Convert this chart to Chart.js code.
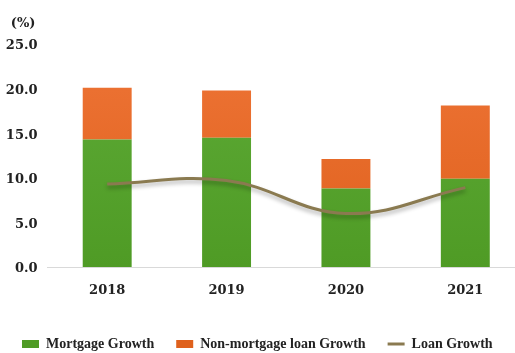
<!DOCTYPE html>
<html>
<head>
<meta charset="utf-8">
<script src="https://cdn.jsdelivr.net/npm/chart.js@4"></script>
<style>
    html, body { margin: 0; padding: 0; background: #fff; overflow: hidden; }
    #wrap { width: 530px; height: 361px; }
</style>
</head>
<body>
<div id="wrap"><canvas id="loanChart" width="530" height="361"></canvas></div>
<script>
// =====================
// DATA
// =====================
const years = ['2018', '2019', '2020', '2021'];
const mortgageGrowth = [14.3, 14.5, 8.8, 9.9];
const nonMortgageGrowth = [5.8, 5.3, 3.3, 8.2];
const loanGrowth = [9.3, 9.7, 6.0, 8.9];
const yTicks = [0, 5, 10, 15, 20, 25];

// axis numbers are set in a wide serif, the legend in a narrower one
const AXIS_FONT = { family: '"DejaVu Serif", serif', size: 13, weight: 'bold' };
const LEGEND_FONT = { family: '"Liberation Serif", serif', size: 14, weight: 'bold' };

// vertical gradient for the bar fills
function barGradient(top, bottom) {
    return ctx => {
        const area = ctx.chart.chartArea;
        if (!area) return top;
        const g = ctx.chart.ctx.createLinearGradient(0, area.top, 0, area.bottom);
        g.addColorStop(0, top);
        g.addColorStop(1, bottom);
        return g;
    };
}

// soft shadow under the loan growth curve
const lineShadow = {
    id: 'lineShadow',
    beforeDatasetDraw(chart, args) {
        if (args.meta.type !== 'line') return;
        const c = chart.ctx;
        c.save();
        c.shadowColor = 'rgba(0,0,0,0.3)';
        c.shadowBlur = 4;
        c.shadowOffsetY = 3;
    },
    afterDatasetDraw(chart, args) {
        if (args.meta.type !== 'line') return;
        chart.ctx.restore();
    }
};

// "(%)" unit label above the y axis
const unitLabel = {
    id: 'unitLabel',
    afterDraw(chart) {
        const c = chart.ctx;
        c.save();
        c.font = `${AXIS_FONT.weight} ${AXIS_FONT.size}px ${AXIS_FONT.family}`;
        c.fillStyle = '#222';
        c.textAlign = 'right';
        c.textBaseline = 'middle';
        c.fillText('(%)', chart.chartArea.left - 12, 24);
        c.restore();
    }
};

const ctx = document.getElementById('loanChart').getContext('2d');
new Chart(ctx, {
    data: {
        labels: years,
        datasets: [
            {
                type: 'bar',
                label: 'Mortgage Growth',
                data: mortgageGrowth,
                stack: 'loans',
                backgroundColor: barGradient('#5eab37', '#4f9b25'),
                borderWidth: 0,
                pointStyle: 'rect',
                order: 1
            },
            {
                type: 'bar',
                label: 'Non-mortgage loan Growth',
                data: nonMortgageGrowth,
                stack: 'loans',
                backgroundColor: barGradient('#ee7436', '#df611d'),
                borderWidth: 0,
                pointStyle: 'rect',
                order: 1
            },
            {
                type: 'line',
                label: 'Loan Growth',
                data: loanGrowth,
                stack: 'loan',
                borderColor: '#8a7a50',
                backgroundColor: '#8a7a50',
                borderWidth: 3,
                tension: 0.4,
                pointRadius: 0,
                pointStyle: 'line',
                order: 0
            }
        ]
    },
    plugins: [lineShadow, unitLabel],
    options: {
        responsive: false,
        animation: false,
        layout: { padding: { top: 44, left: 0, right: 5, bottom: 0 } },
        datasets: { bar: { barPercentage: 0.41, categoryPercentage: 1 } },
        scales: {
            x: {
                stacked: true,
                grid: { display: false, drawTicks: false },
                border: { display: true, color: '#d9d9d9', width: 1 },
                ticks: { color: '#222', font: { ...AXIS_FONT, lineHeight: 2.95 }, padding: 4.8 }
            },
            y: {
                stacked: true,
                min: yTicks[0],
                max: yTicks[yTicks.length - 1],
                afterFit(scale) { scale.width = 47.5; },
                afterBuildTicks(scale) { scale.ticks = yTicks.map(v => ({ value: v })); },
                grid: { display: false, drawTicks: false },
                border: { display: false },
                ticks: {
                    color: '#222',
                    font: AXIS_FONT,
                    padding: 10,
                    labelOffset: 2,
                    callback: v => Number(v).toFixed(1)
                }
            }
        },
        plugins: {
            tooltip: { enabled: false },
            legend: {
                position: 'bottom',
                align: 'start',
                labels: {
                    color: '#222',
                    font: LEGEND_FONT,
                    usePointStyle: true,
                    pointStyleWidth: 17,
                    boxHeight: 8,
                    padding: 22,
                    sort: (a, b) => a.datasetIndex - b.datasetIndex
                }
            }
        }
    }
});
</script>
</body>
</html>
